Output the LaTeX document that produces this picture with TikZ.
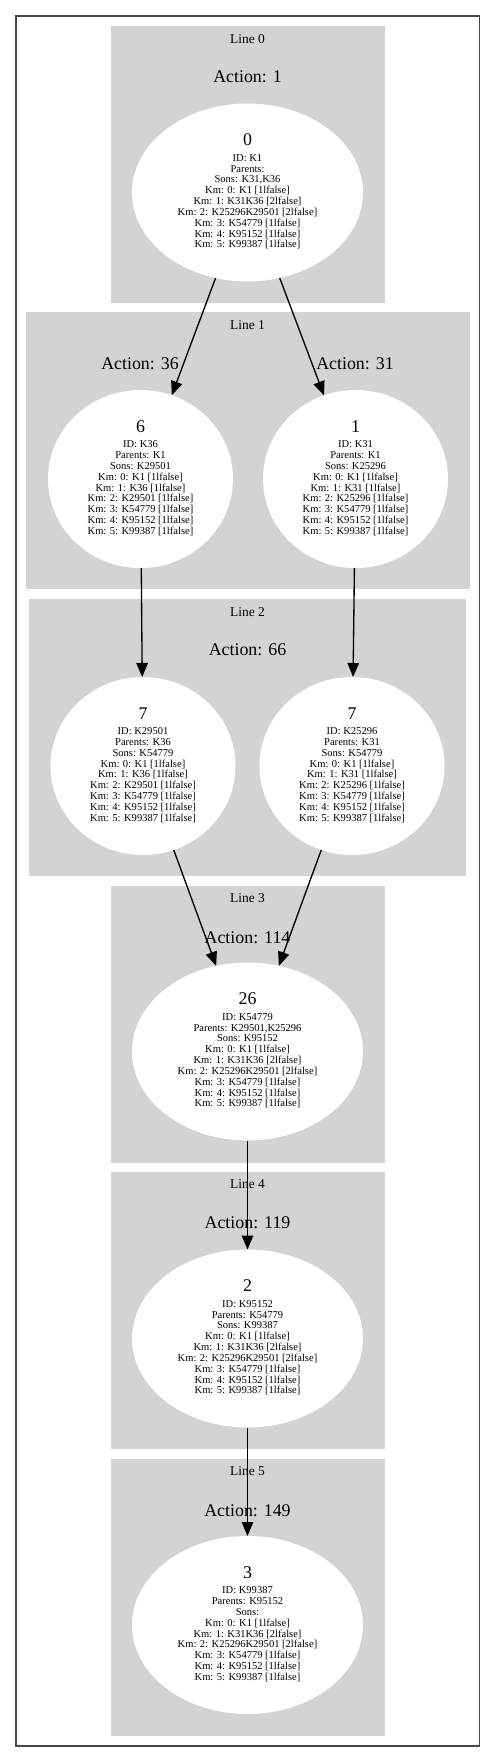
\documentclass[tikz,border=0pt]{standalone}
\usepackage{fontspec}
\setmainfont{Liberation Serif}
\usetikzlibrary{shapes.geometric,arrows.meta}
\definecolor{clustergray}{RGB}{211,211,211}
\newcommand{\bignum}[1]{{\fontsize{13.4pt}{13.4pt}\selectfont #1}}
\tikzset{
  state/.style={ellipse, fill=white, draw=none, inner sep=0pt, outer sep=0pt,
    minimum height=133.5pt, font=\fontsize{7.9pt}{8.12pt}\selectfont},
  bigstate/.style={state, minimum width=173.25pt},
  smallstate/.style={state, minimum width=138.75pt},
  linelabel/.style={font=\fontsize{10.1pt}{12pt}\selectfont, inner sep=0pt},
  actlabel/.style={font=\fontsize{13.4pt}{16pt}\selectfont, inner sep=0pt},
  edge/.style={draw=black, line width=1pt, -{Triangle[length=10.5pt,width=8.6pt]}},
  cluster/.style={fill=clustergray, draw=none},
  frame/.style={draw=black!72, line width=1.2pt}
}
\begin{document}
\begin{tikzpicture}[x=0.75pt, y=-0.75pt]
\useasboundingbox (0,0) rectangle (496,1762);
% outer frame
\draw[frame] (16,16) rectangle (479.3,1745.7);
% clusters
\fill[cluster] (111,26) rectangle (385,303);
\fill[cluster] (26,312) rectangle (470,589);
\fill[cluster] (29,599) rectangle (466,876);
\fill[cluster] (111,886) rectangle (385,1163);
\fill[cluster] (111,1172) rectangle (385,1449);
\fill[cluster] (111,1459) rectangle (385,1736);
% cluster labels
\node[linelabel] (l0) at (247.5,39) {Line 0};
\node[linelabel] (l1) at (247.5,325) {Line 1};
\node[linelabel] (l2) at (247.5,612) {Line 2};
\node[linelabel] (l3) at (247.5,898) {Line 3};
\node[linelabel] (l4) at (247.5,1184) {Line 4};
\node[linelabel] (l5) at (247.5,1471) {Line 5};
% action labels
\node[actlabel] (a0) at (247.5,77) {Action: 1};
\node[actlabel] (a36) at (140,364) {Action: 36};
\node[actlabel] (a31) at (355,364) {Action: 31};
\node[actlabel] (a66) at (247.5,650) {Action: 66};
\node[actlabel] (a114) at (247.5,938) {Action: 114};
\node[actlabel] (a119) at (247.5,1223) {Action: 119};
\node[actlabel] (a149) at (247.5,1511) {Action: 149};
% states
\node[bigstate] (n0) at (247.5,192.5) {\begin{tabular}{@{}c@{}}\bignum{0}\\[3.5pt]
ID: K1\\ Parents:\\ Sons: K31,K36\\ Km: 0: K1 [1lfalse]\\ Km: 1: K31K36 [2lfalse]\\
Km: 2: K25296K29501 [2lfalse]\\ Km: 3: K54779 [1lfalse]\\ Km: 4: K95152 [1lfalse]\\
Km: 5: K99387 [1lfalse]\end{tabular}};
\node[smallstate] (n6) at (140.5,479) {\begin{tabular}{@{}c@{}}\bignum{6}\\[3.5pt]
ID: K36\\ Parents: K1\\ Sons: K29501\\ Km: 0: K1 [1lfalse]\\ Km: 1: K36 [1lfalse]\\
Km: 2: K29501 [1lfalse]\\ Km: 3: K54779 [1lfalse]\\ Km: 4: K95152 [1lfalse]\\
Km: 5: K99387 [1lfalse]\end{tabular}};
\node[smallstate] (n1) at (355.5,479) {\begin{tabular}{@{}c@{}}\bignum{1}\\[3.5pt]
ID: K31\\ Parents: K1\\ Sons: K25296\\ Km: 0: K1 [1lfalse]\\ Km: 1: K31 [1lfalse]\\
Km: 2: K25296 [1lfalse]\\ Km: 3: K54779 [1lfalse]\\ Km: 4: K95152 [1lfalse]\\
Km: 5: K99387 [1lfalse]\end{tabular}};
\node[smallstate] (n7a) at (143,766) {\begin{tabular}{@{}c@{}}\bignum{7}\\[3.5pt]
ID: K29501\\ Parents: K36\\ Sons: K54779\\ Km: 0: K1 [1lfalse]\\ Km: 1: K36 [1lfalse]\\
Km: 2: K29501 [1lfalse]\\ Km: 3: K54779 [1lfalse]\\ Km: 4: K95152 [1lfalse]\\
Km: 5: K99387 [1lfalse]\end{tabular}};
\node[smallstate] (n7b) at (352,766) {\begin{tabular}{@{}c@{}}\bignum{7}\\[3.5pt]
ID: K25296\\ Parents: K31\\ Sons: K54779\\ Km: 0: K1 [1lfalse]\\ Km: 1: K31 [1lfalse]\\
Km: 2: K25296 [1lfalse]\\ Km: 3: K54779 [1lfalse]\\ Km: 4: K95152 [1lfalse]\\
Km: 5: K99387 [1lfalse]\end{tabular}};
\node[bigstate] (n26) at (247.5,1051.5) {\begin{tabular}{@{}c@{}}\bignum{26}\\[3.5pt]
ID: K54779\\ Parents: K29501,K25296\\ Sons: K95152\\ Km: 0: K1 [1lfalse]\\ Km: 1: K31K36 [2lfalse]\\
Km: 2: K25296K29501 [2lfalse]\\ Km: 3: K54779 [1lfalse]\\ Km: 4: K95152 [1lfalse]\\
Km: 5: K99387 [1lfalse]\end{tabular}};
\node[bigstate] (n2) at (247.5,1338.5) {\begin{tabular}{@{}c@{}}\bignum{2}\\[3.5pt]
ID: K95152\\ Parents: K54779\\ Sons: K99387\\ Km: 0: K1 [1lfalse]\\ Km: 1: K31K36 [2lfalse]\\
Km: 2: K25296K29501 [2lfalse]\\ Km: 3: K54779 [1lfalse]\\ Km: 4: K95152 [1lfalse]\\
Km: 5: K99387 [1lfalse]\end{tabular}};
\node[bigstate] (n3) at (247.5,1625) {\begin{tabular}{@{}c@{}}\bignum{3}\\[3.5pt]
ID: K99387\\ Parents: K95152\\ Sons:\\ Km: 0: K1 [1lfalse]\\ Km: 1: K31K36 [2lfalse]\\
Km: 2: K25296K29501 [2lfalse]\\ Km: 3: K54779 [1lfalse]\\ Km: 4: K95152 [1lfalse]\\
Km: 5: K99387 [1lfalse]\end{tabular}};
% edges
\draw[edge] (n0) -- (n6);
\draw[edge] (n0) -- (n1);
\draw[edge] (n6) -- (n7a);
\draw[edge] (n1) -- (n7b);
\draw[edge] (n7a) -- (n26);
\draw[edge] (n7b) -- (n26);
\draw[edge] (n26) -- (n2);
\draw[edge] (n2) -- (n3);
\end{tikzpicture}
\end{document}
